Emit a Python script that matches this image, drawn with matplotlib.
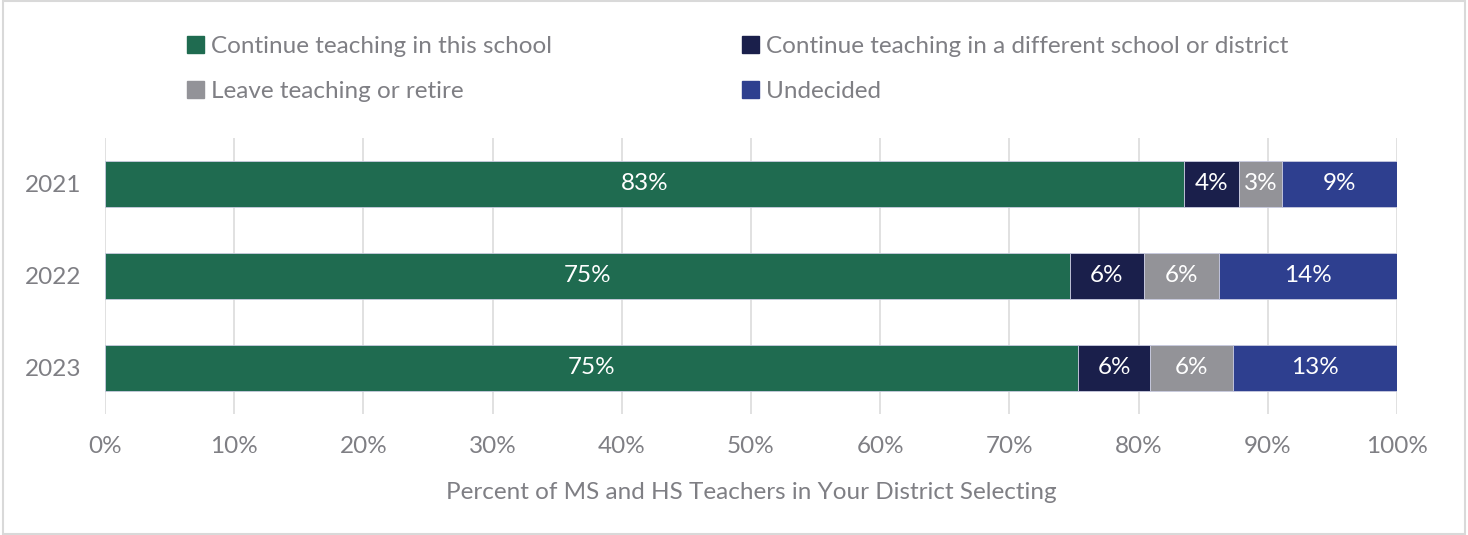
import matplotlib.pyplot as plt
from matplotlib.patches import Patch, Rectangle
import numpy as np

years = ['2021', '2022', '2023']
series = ['Continue teaching in this school',
          'Continue teaching in a different school or district',
          'Leave teaching or retire',
          'Undecided']
this_school = [83.5, 74.7, 75.3]
other_school = [4.3, 5.7, 5.6]
leave = [3.3, 5.8, 6.4]
undecided = [8.9, 13.8, 12.7]
labels = [['83%', '75%', '75%'],
          ['4%', '6%', '6%'],
          ['3%', '6%', '6%'],
          ['9%', '14%', '13%']]
colors = ['#1F6B50', '#1A1F4B', '#939398', '#2E3F8F']

plt.rcParams['font.family'] = ['Lato', 'DejaVu Sans']

fig = plt.figure(figsize=(14.68, 5.35), dpi=100)
ax = fig.add_axes([105/1468, 1-414/535, (1397-105)/1468, (414-138)/535])

y = np.arange(len(years))
left = np.zeros(len(years))
for vals, col, labs in zip([this_school, other_school, leave, undecided], colors, labels):
    vals = np.array(vals)
    ax.barh(y, vals, left=left, height=0.5, color=col, edgecolor='#C9CBE0', linewidth=0.6, zorder=3)
    for yi, l, v, t in zip(y, left, vals, labs):
        ax.text(l + v/2, yi, t, ha='center', va='center', color='white', fontsize=17.5, zorder=4)
    left = left + vals

ax.set_xlim(0, 100)
ax.set_ylim(2.5, -0.5)
ax.set_yticks(y)
ax.set_yticklabels(years)
ax.set_xticks(np.arange(0, 101, 10))
ax.set_xticklabels([f'{v}%' for v in range(0, 101, 10)])
ax.tick_params(axis='both', length=0, labelsize=17.5, labelcolor='#7F7F84')
ax.tick_params(axis='x', pad=16)
ax.tick_params(axis='y', pad=17)
ax.grid(axis='x', color='#DCDCDC', linewidth=1.2, zorder=0)
for s in ax.spines.values():
    s.set_visible(False)
ax.set_xlabel('Percent of MS and HS Teachers in Your District Selecting',
              fontsize=17.5, color='#7F7F84', labelpad=18)

handles = [Patch(color=c) for c in colors]
order = [0, 2, 1, 3]
fig.legend([handles[i] for i in order], [series[i] for i in order],
           loc='upper left', bbox_to_anchor=(165/1468, 1-14/535), ncol=2,
           frameon=False, fontsize=17.5, labelcolor='#7F7F84',
           handlelength=0.7, handleheight=0.7, handletextpad=0.3,
           columnspacing=7.8, labelspacing=1.0)

fig.add_artist(Rectangle((0.002, 0.002), 0.996, 0.996, transform=fig.transFigure,
                         fill=False, edgecolor='#D9D9D9', linewidth=1.5))

fig.savefig('out.png', dpi=100)
